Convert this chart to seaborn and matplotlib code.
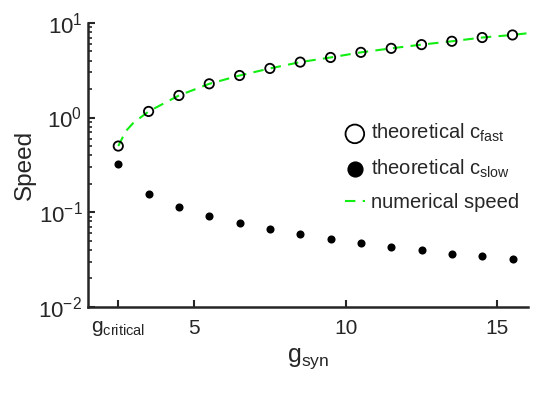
import numpy as np
import pandas as pd
import matplotlib
matplotlib.use("Agg")
import matplotlib.pyplot as plt
import seaborn as sns
from matplotlib.ticker import LogLocator, NullFormatter

g_syn = [2.5, 3.5, 4.5, 5.5, 6.5, 7.5, 8.5, 9.5, 10.5, 11.5, 12.5, 13.5, 14.5, 15.5]
c_fast = [0.50, 1.16, 1.71, 2.27, 2.78, 3.30, 3.85, 4.31, 4.88, 5.38, 5.89, 6.39, 7.00, 7.45]
c_slow = [0.321, 0.154, 0.114, 0.0916, 0.077, 0.0665, 0.0583, 0.052, 0.0468, 0.0432, 0.0398, 0.0366, 0.0344, 0.0319]
num_x = [2.5, 2.75, 3.0, 3.5, 4.5, 5.5, 6.5, 7.5, 8.5, 9.5, 10.5, 11.5, 12.5, 13.5, 14.5, 15.5, 16.0]
num_speed = [0.50, 0.72, 0.88, 1.16, 1.71, 2.27, 2.78, 3.30, 3.85, 4.31, 4.88, 5.38, 5.89, 6.39, 7.00, 7.45, 7.77]
x_ticks = [2.5, 5, 10, 15]
x_ticklabels = [r"$\mathregular{g_{critical}}$", "5", "10", "15"]

sns.set_style("ticks")
plt.rcParams['font.family'] = ['Liberation Sans', 'DejaVu Sans']
plt.rcParams['mathtext.fontset'] = 'custom'
plt.rcParams['mathtext.rm'] = 'Liberation Sans'
plt.rcParams['mathtext.it'] = 'Liberation Sans'

dark = "#262626"
fig = plt.figure(figsize=(5.33, 3.94), dpi=100)
ax = fig.add_axes([0.165, 0.221, 0.825, 0.721])

df_fast = pd.DataFrame({"g": g_syn, "v": c_fast})
df_slow = pd.DataFrame({"g": g_syn, "v": c_slow})
df_num = pd.DataFrame({"g": num_x, "v": num_speed})

sns.lineplot(data=df_num, x="g", y="v", ax=ax, color="#11ee11", lw=1.5,
             linestyle=(0, (5, 3.5)), label="numerical speed", zorder=2)
sns.scatterplot(data=df_fast, x="g", y="v", ax=ax, marker="o", s=45,
                facecolor="none", edgecolor="black", linewidth=1.3,
                label="theoretical c$_{\\mathregular{fast}}$", zorder=3)
sns.scatterplot(data=df_slow, x="g", y="v", ax=ax, marker="o", s=34,
                color="black", edgecolor="black", linewidth=0,
                label="theoretical c$_{\\mathregular{slow}}$", zorder=3)

ax.set_yscale("log")
ax.set_ylim(0.01, 10)
ax.set_xlim(1.5, 16)
ax.set_yticks([0.01, 0.1, 1, 10])
ax.set_yticklabels([r"$\mathregular{10^{-2}}$", r"$\mathregular{10^{-1}}$",
                    r"$\mathregular{10^{0}}$", r"$\mathregular{10^{1}}$"])
ax.yaxis.set_minor_locator(LogLocator(base=10, subs=np.arange(2, 10), numticks=20))
ax.yaxis.set_minor_formatter(NullFormatter())
ax.set_xticks(x_ticks)
ax.set_xticklabels(x_ticklabels)

ax.tick_params(axis="both", which="major", direction="in", length=5, width=1.5,
               labelsize=15, colors=dark, labelcolor=dark)
ax.tick_params(axis="x", which="major", pad=9)
ax.tick_params(axis="y", which="major", pad=4, labelsize=16)
ax.tick_params(axis="y", which="minor", direction="in", length=3, width=1.2, colors=dark)
for s in ["left", "bottom"]:
    ax.spines[s].set_linewidth(1.8)
    ax.spines[s].set_color(dark)
sns.despine(ax=ax)

ax.set_xlabel(r"$\mathregular{g_{syn}}$", fontsize=18, color=dark, labelpad=6)
ax.set_ylabel("Speed", fontsize=17.5, color=dark, labelpad=2)

h, l = ax.get_legend_handles_labels()
order = [1, 2, 0]
leg = ax.legend([h[i] for i in order], [l[i] for i in order], loc="upper left",
                bbox_to_anchor=(0.552, 0.70), frameon=False, fontsize=14.5,
                handlelength=1.0, handletextpad=0.3, labelspacing=0.66,
                markerscale=2.0, borderpad=0.2)
for t in leg.get_texts():
    t.set_color(dark)

fig.savefig("out.png", dpi=100)
